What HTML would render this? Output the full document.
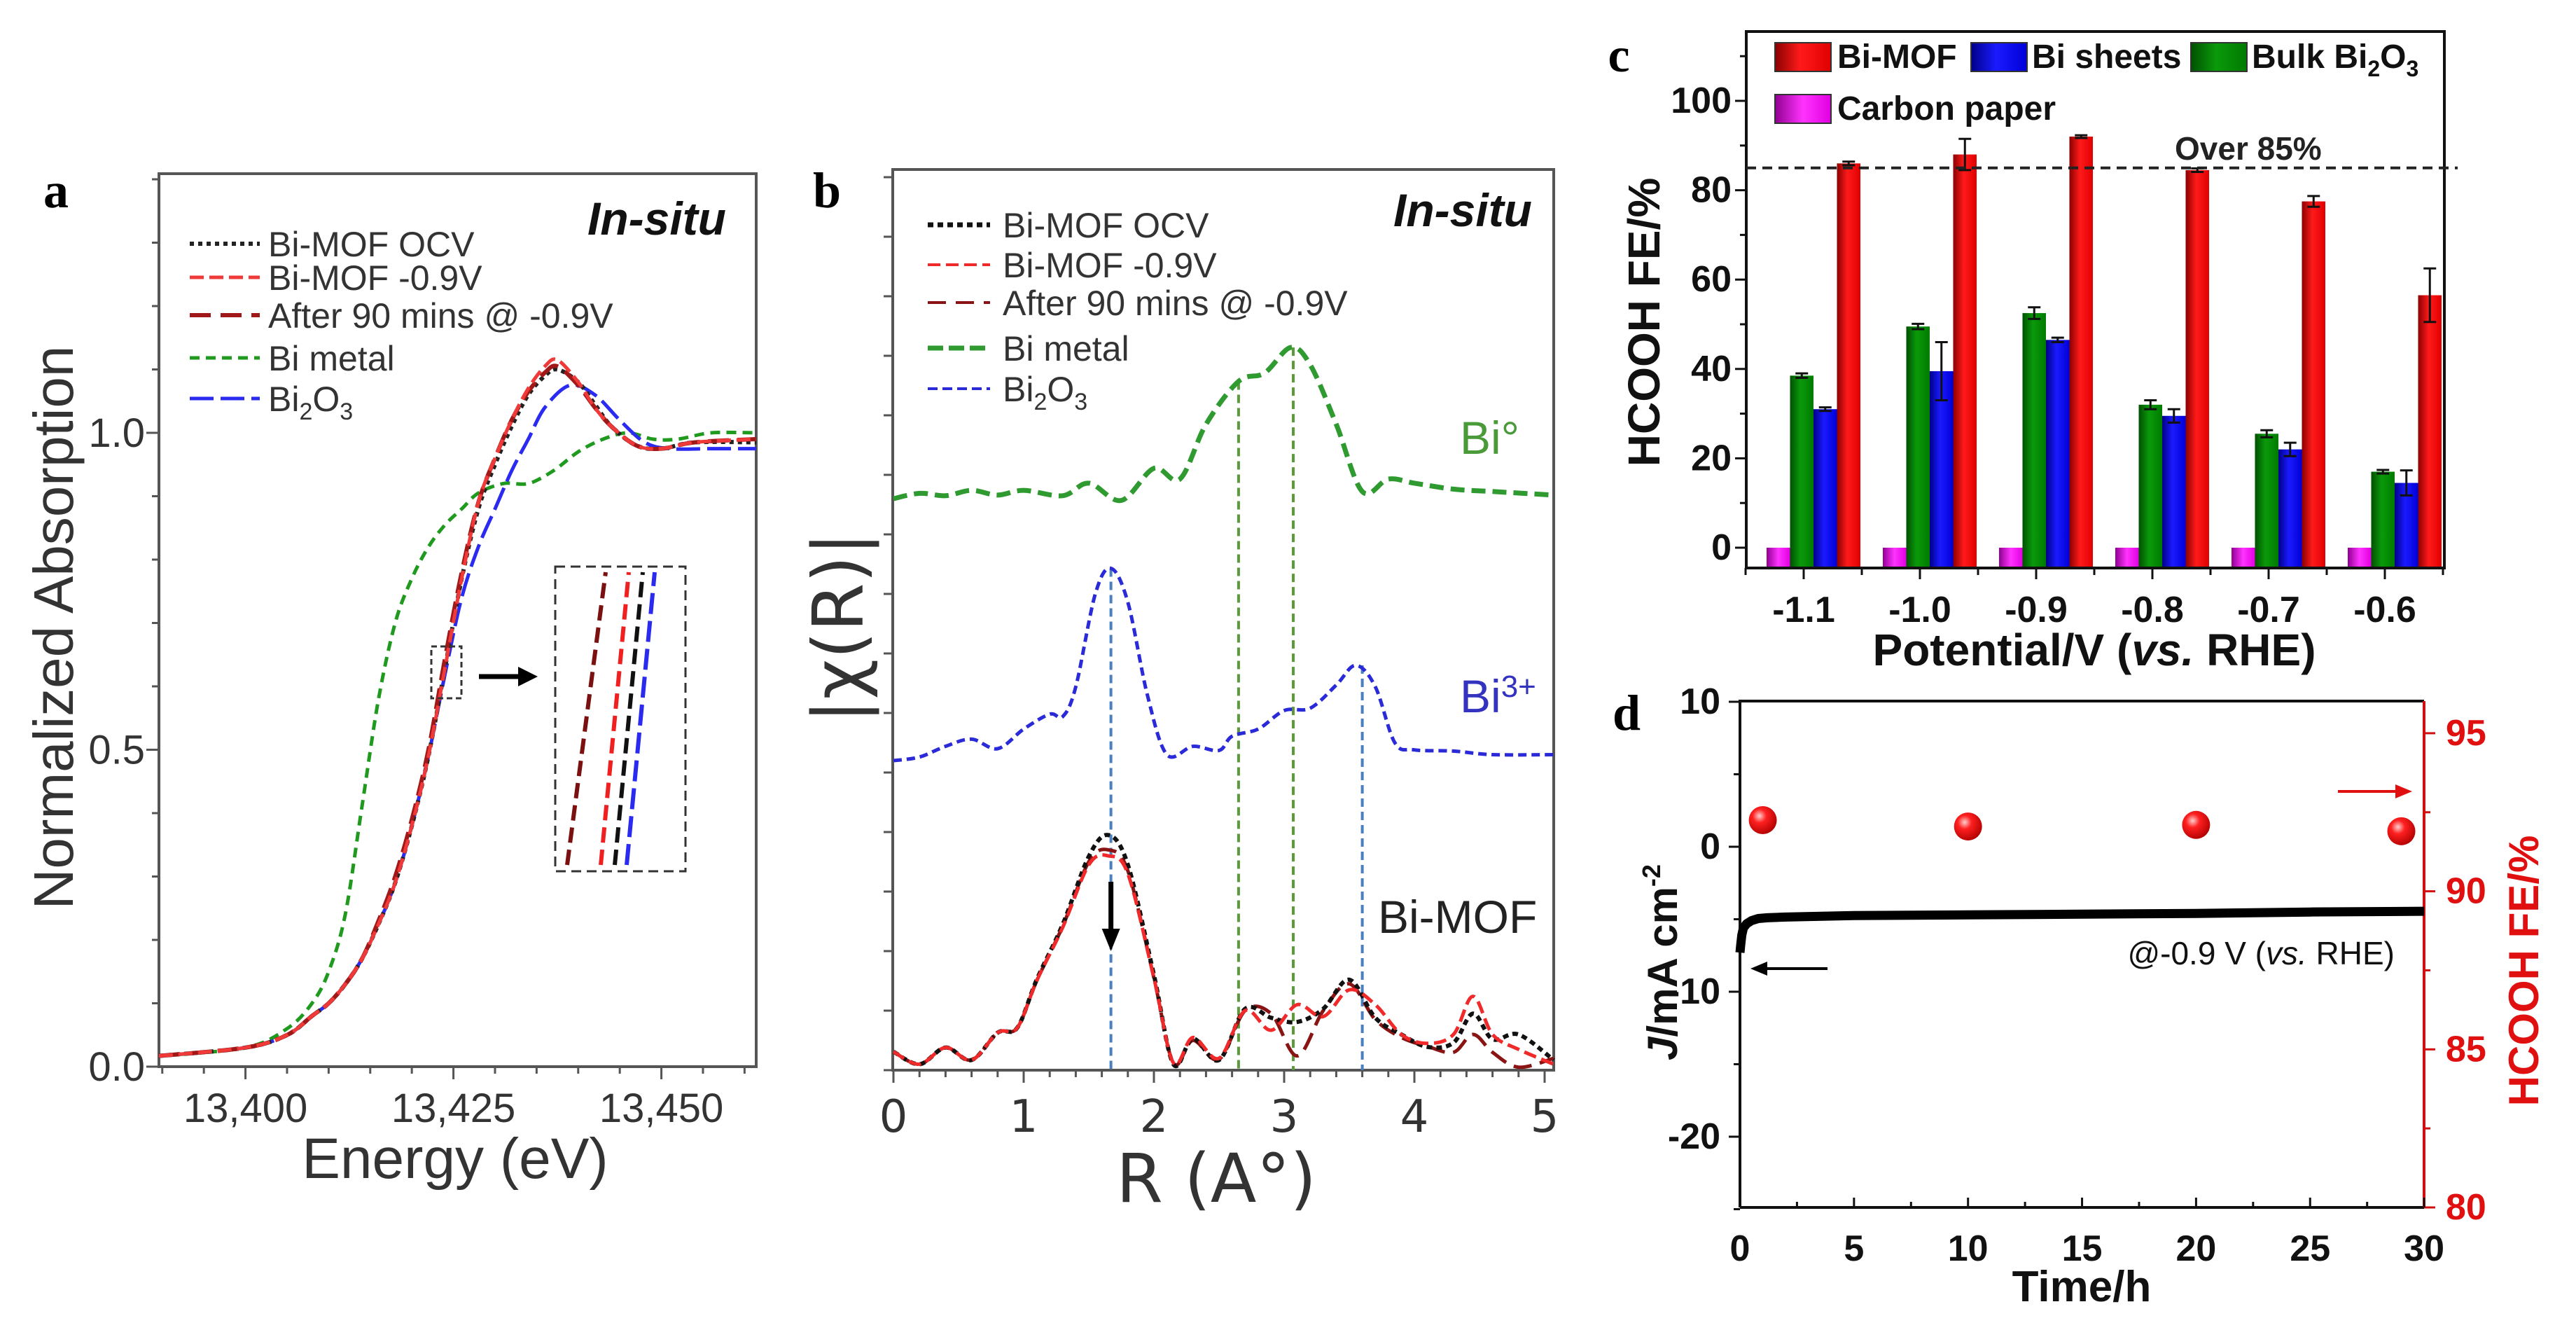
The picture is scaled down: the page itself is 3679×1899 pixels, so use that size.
<!DOCTYPE html>
<html><head><meta charset="utf-8">
<style>
html,body{margin:0;padding:0;background:#fff;}
svg{display:block;}
.lib{font-family:"Liberation Sans",sans-serif;}
.nar{font-family:"Liberation Sans Narrow","Liberation Sans",sans-serif;font-weight:bold;}
.narn{font-family:"Liberation Sans Narrow","Liberation Sans",sans-serif;font-weight:normal;}
.ser{font-family:"Liberation Serif",serif;font-weight:bold;}
.dv{font-family:"DejaVu Sans","Liberation Sans",sans-serif;}
</style></head>
<body>
<svg id="fig" width="3679" height="1899" viewBox="0 0 3679 1899" xmlns="http://www.w3.org/2000/svg">
<defs>
<linearGradient id="gRed" x1="0" x2="1" y1="0" y2="0"><stop offset="0" stop-color="#8a0000"/><stop offset="0.45" stop-color="#ff1a1a"/><stop offset="1" stop-color="#e00000"/></linearGradient>
<linearGradient id="gBlue" x1="0" x2="1"><stop offset="0" stop-color="#00008a"/><stop offset="0.45" stop-color="#1a1aff"/><stop offset="1" stop-color="#0000d8"/></linearGradient>
<linearGradient id="gGreen" x1="0" x2="1"><stop offset="0" stop-color="#005000"/><stop offset="0.45" stop-color="#0a9a0a"/><stop offset="1" stop-color="#007a00"/></linearGradient>
<linearGradient id="gMag" x1="0" x2="1"><stop offset="0" stop-color="#900090"/><stop offset="0.5" stop-color="#ff33ff"/><stop offset="1" stop-color="#e000e0"/></linearGradient>
<radialGradient id="gBall" cx="0.38" cy="0.35" r="0.7"><stop offset="0" stop-color="#ffd0d0"/><stop offset="0.35" stop-color="#ff2020"/><stop offset="1" stop-color="#b00000"/></radialGradient>
</defs>
</svg>
<script>
// ---------- Panel a data ----------
const aRedE=[13389.6,13400,13405,13408,13410,13412,13414,13416,13418,13420,13422,13424,13426,13428,13430,13432,13434,13436,13437.5,13440,13442,13444,13447,13450,13454,13461.4];
const aRedV=[0.017,0.03,0.05,0.08,0.10,0.13,0.17,0.225,0.29,0.38,0.49,0.63,0.77,0.89,0.96,1.02,1.07,1.105,1.115,1.08,1.04,1.01,0.98,0.975,0.985,0.99];
const aBlackV=[0.017,0.03,0.05,0.08,0.10,0.13,0.17,0.225,0.29,0.38,0.49,0.63,0.77,0.88,0.95,1.01,1.06,1.09,1.10,1.08,1.045,1.01,0.98,0.975,0.985,0.985];
const aDarkV=[0.017,0.03,0.05,0.08,0.10,0.13,0.17,0.23,0.30,0.39,0.50,0.645,0.78,0.89,0.96,1.02,1.065,1.095,1.105,1.075,1.04,1.01,0.98,0.975,0.985,0.99];
const aGreenE=[13389.6,13400,13405,13408,13410,13412,13414,13416,13418,13420,13422,13424,13426,13428,13431,13434,13437,13440,13443,13446,13449,13452,13456,13461.4];
const aGreenV=[0.017,0.03,0.06,0.10,0.15,0.24,0.41,0.58,0.70,0.77,0.82,0.855,0.88,0.905,0.92,0.92,0.94,0.97,0.99,1.0,0.99,0.99,1.0,1.0];
const aBlueE=[13389.6,13400,13405,13408,13410,13412,13414,13416,13418,13420,13422,13424,13426,13428,13430,13432,13434,13436,13439,13442,13445,13448,13451,13456,13461.4];
const aBlueV=[0.017,0.03,0.05,0.08,0.10,0.13,0.17,0.225,0.29,0.38,0.49,0.62,0.74,0.82,0.88,0.94,0.99,1.04,1.075,1.06,1.02,0.985,0.975,0.975,0.975];
const aYTicks=[0,0.5,1.0];
const aYLabels=["0.0","0.5","1.0"];
const aXTicks=[13400,13425,13450];
const aXLabels=["13,400","13,425","13,450"];
// ---------- Panel b data ----------
const bGreenR=[0,0.2,0.4,0.6,0.8,1.0,1.3,1.5,1.75,2.0,2.2,2.4,2.65,2.85,3.05,3.2,3.4,3.6,3.8,4.0,4.3,4.6,5.07];
const bGreenY=[9.6,9.69,9.65,9.74,9.66,9.74,9.65,9.86,9.57,10.11,9.93,10.85,11.57,11.71,12.14,11.85,10.85,9.72,9.93,9.86,9.76,9.72,9.66];
const bBlueR=[0,0.2,0.4,0.6,0.8,1.0,1.2,1.3,1.4,1.55,1.67,1.8,1.95,2.1,2.3,2.5,2.6,2.8,3.0,3.2,3.4,3.55,3.7,3.85,4.0,4.3,4.6,5.07];
const bBlueY=[5.2,5.26,5.44,5.56,5.4,5.73,5.98,5.94,6.44,8.0,8.43,7.86,6.3,5.3,5.44,5.37,5.61,5.73,6.04,6.08,6.47,6.8,6.44,5.5,5.38,5.36,5.3,5.3];
const bMofR=[0,0.2,0.4,0.6,0.8,0.95,1.1,1.3,1.5,1.65,1.8,2.0,2.15,2.3,2.5,2.7,2.9,3.1,3.3,3.5,3.7,3.9,4.1,4.3,4.45,4.6,4.8,5.07];
const bBlackY=[0.31,0.1,0.38,0.17,0.63,0.71,1.52,2.45,3.59,3.95,3.45,1.6,0.1,0.53,0.17,1.03,0.88,0.81,1.03,1.52,0.88,0.6,0.39,0.46,0.95,0.52,0.6,0.17];
const bRedY=[0.31,0.1,0.38,0.17,0.63,0.71,1.5,2.4,3.45,3.6,3.3,1.55,0.12,0.55,0.2,1.0,0.67,1.1,0.9,1.35,1.1,0.6,0.45,0.6,1.24,0.6,0.35,0.1];
const bDarkY=[0.31,0.1,0.38,0.17,0.63,0.71,1.5,2.42,3.5,3.7,3.35,1.55,0.12,0.5,0.18,1.0,0.95,0.24,1.0,1.45,0.85,0.55,0.4,0.3,0.6,0.3,0.05,0.2];
const bXTicks=[0,1,2,3,4,5];
const bXLabels=["0","1","2","3","4","5"];
const bMarkR=[1.67,2.65,3.07,3.6];
// ---------- Panel c data ----------
const cCats=["-1.1","-1.0","-0.9","-0.8","-0.7","-0.6"];
const cCarbon=[0,0,0,0,0,0];
const cBulk=[38.5,49.5,52.5,32,25.5,17];
const cBulkErr=[0.5,0.6,1.3,1.0,0.8,0.4];
const cSheets=[31,39.5,46.5,29.5,22,14.5];
const cSheetsErr=[0.4,6.5,0.5,1.5,1.5,2.8];
const cMof=[86,88,92,84.5,77.5,56.5];
const cMofErr=[0.4,3.5,0.3,0.4,1.2,6];
const cYTicks=[0,20,40,60,80,100];
const cYLabels=["0","20","40","60","80","100"];
// ---------- Panel d data ----------
const dTime=[0,0.03,0.08,0.15,0.3,0.5,0.8,1.2,2,5,10,15,20,25,30];
const dJ=[-7.3,-6.8,-6.1,-5.6,-5.3,-5.1,-4.95,-4.9,-4.85,-4.75,-4.7,-4.65,-4.6,-4.5,-4.45];
const dFeT=[1,10,20,29];
const dFe=[92.25,92.05,92.1,91.9];
const dXTicks=[0,5,10,15,20,25,30];
const dXLabels=["0","5","10","15","20","25","30"];
const dLTicks=[10,0,-10,-20];
const dLLabels=["10","0","-10","-20"];
const dRTicks=[95,90,85,80];
const dRLabels=["95","90","85","80"];

const NS="http://www.w3.org/2000/svg";
const svg=document.getElementById('fig');
function mk(tag,attrs,parent){const e=document.createElementNS(NS,tag);for(const k in attrs)e.setAttribute(k,attrs[k]);(parent||svg).appendChild(e);return e;}
function smooth(pts){let d="M"+pts[0][0].toFixed(1)+","+pts[0][1].toFixed(1);for(let i=0;i<pts.length-1;i++){const p0=pts[Math.max(0,i-1)],p1=pts[i],p2=pts[i+1],p3=pts[Math.min(pts.length-1,i+2)];const c1x=p1[0]+(p2[0]-p0[0])/6,c1y=p1[1]+(p2[1]-p0[1])/6,c2x=p2[0]-(p3[0]-p1[0])/6,c2y=p2[1]-(p3[1]-p1[1])/6;d+=" C"+c1x.toFixed(1)+","+c1y.toFixed(1)+" "+c2x.toFixed(1)+","+c2y.toFixed(1)+" "+p2[0].toFixed(1)+","+p2[1].toFixed(1);}return d;}
function txt(x,y,s,cls,size,attrs,parent){const t=mk('text',Object.assign({x:x,y:y,class:cls,'font-size':size},attrs||{}),parent);t.textContent=s;return t;}

// ================= PANEL A =================
const xA=E=>227+(E-13389.6)*(853/71.8);
const yA=v=>1523-v*905;
const gA=mk('g',{});


let e;
e=txt(80,296,"a","ser",72,{'text-anchor':'middle'},gA);


e=mk('rect',{x:227,y:248,width:853,height:1275,fill:'none',stroke:'#555',"stroke-width":4},gA);


for(let v=0;v<=1.41;v+=0.1){const maj=Math.abs(v*2-Math.round(v*2))<0.01;e=mk('line',{x1:227,x2:227-(maj?18:10),y1:yA(v),y2:yA(v),stroke:'#555','stroke-width':3},gA);

}
aYTicks.forEach((v,i)=>{e=txt(207,yA(v)+20,aYLabels[i],"lib",58,{'text-anchor':'end',fill:'#333'},gA);

});
for(let E=13390;E<=13461;E+=5){const maj=(E%25===0);e=mk('line',{x1:xA(E),x2:xA(E),y1:1523,y2:1523+(maj?18:10),stroke:'#555','stroke-width':3},gA);

}
aXTicks.forEach((v,i)=>{e=txt(xA(v),1602,aXLabels[i],"lib",58,{'text-anchor':'middle',fill:'#333'},gA);

});
e=txt(650,1682,"Energy (eV)","lib",82,{'text-anchor':'middle',fill:'#333'},gA);


e=txt(0,0,"Normalized Absorption","lib",80,{'text-anchor':'middle',fill:'#333',transform:'translate(104,896) rotate(-90)'},gA);


e=txt(1037,335,"In-situ","lib",66,{'text-anchor':'end','font-weight':'bold','font-style':'italic',fill:'#111'},gA);


const aSeries=[
 {E:aGreenE,V:aGreenV,c:'#1f9a1f',d:'14 9',w:5,n:'a-line-bi-metal'},
 {E:aBlueE,V:aBlueV,c:'#2a2af0',d:'34 10',w:5,n:'a-line-bi2o3'},
 {E:aRedE,V:aBlackV,c:'#222',d:'6 6',w:6,n:'a-line-bimof-ocv'},
 {E:aRedE,V:aDarkV,c:'#a01818',d:'30 12',w:6,n:'a-line-after-90min'},
 {E:aRedE,V:aRedV,c:'#f03a3a',d:'20 8',w:5,n:'a-line-bimof-09v'}];
aSeries.forEach(s=>{const pts=s.E.map((E,i)=>[xA(E),yA(s.V[i])]);e=mk('path',{d:smooth(pts),fill:'none',stroke:s.c,'stroke-width':s.w,'stroke-dasharray':s.d},gA);

});
const legA=[['#222','6 6',6,'Bi-MOF OCV'],['#f03a3a','20 8',5,'Bi-MOF -0.9V'],['#a01818','30 14',6,'After 90 mins @ -0.9V'],['#1f9a1f','14 9',5,'Bi metal'],['#2a2af0','34 10',5,'Bi2O3']];
const legAY=[348,396,450,511,569];
legA.forEach((l,i)=>{e=mk('line',{x1:271,x2:371,y1:legAY[i],y2:legAY[i],stroke:l[0],'stroke-width':l[2],'stroke-dasharray':l[1]},gA);


let t;
if(l[3]==='Bi2O3'){t=txt(383,legAY[i]+18,'','lib',50,{fill:'#333'},gA);t.innerHTML='Bi<tspan font-size="34" dy="12">2</tspan><tspan dy="-12">O</tspan><tspan font-size="34" dy="12">3</tspan>';}
else t=txt(383,legAY[i]+18,l[3],'lib',50,{fill:'#333'},gA);

});
e=mk('rect',{x:616,y:923,width:43,height:74,fill:'none',stroke:'#333','stroke-width':3,'stroke-dasharray':'8 5'},gA);


e=mk('line',{x1:684,x2:745,y1:966,y2:966,stroke:'#000','stroke-width':7},gA);


e=mk('polygon',{points:'768,966 740,952 740,980',fill:'#000'},gA);


e=mk('rect',{x:793,y:809,width:186,height:435,fill:'none',stroke:'#333','stroke-width':3,'stroke-dasharray':'14 8'},gA);


[[810,'#7a1010','22 10'],[858,'#f02020','22 10'],[878,'#111','22 10'],[895,'#2a2af0','30 10']].forEach(s=>{e=mk('line',{x1:s[0],y1:1235,x2:s[0]+(s[0]<840?55:40),y2:817,stroke:s[1],'stroke-width':6,'stroke-dasharray':s[2]},gA);

});

// ================= PANEL B =================
const xB=R=>1276+R*186;
const yB=u=>1528-u*85;
const gB=mk('g',{});


e=txt(1181,296,"b","ser",72,{'text-anchor':'middle'},gB);


e=mk('rect',{x:1275,y:242,width:944,height:1286,fill:'none',stroke:'#555',"stroke-width":4},gB);


for(let u=0;u<=15;u++){e=mk('line',{x1:1275,x2:1262,y1:yB(u),y2:yB(u),stroke:'#555','stroke-width':3},gB);

}
for(let R=0;R<=5.05;R+=0.2){const maj=Math.abs(R-Math.round(R))<0.01;e=mk('line',{x1:xB(R),x2:xB(R),y1:1528,y2:1528+(maj?18:10),stroke:'#555','stroke-width':3},gB);

}
bXTicks.forEach((v,i)=>{e=txt(xB(v),1616,bXLabels[i],"dv",64,{'text-anchor':'middle',fill:'#333'},gB);

});
e=txt(1737,1716,"R (A°)","dv",96,{'text-anchor':'middle',fill:'#333'},gB);


e=txt(0,0,"|χ(R)|","dv",100,{'text-anchor':'middle',fill:'#333',transform:'translate(1232,896) rotate(-90)'},gB);


e=txt(2188,323,"In-situ","lib",66,{'text-anchor':'end','font-weight':'bold','font-style':'italic',fill:'#111'},gB);


const markTop=[8.43,11.57,12.14,6.8];
const markCol=['#4a7fc0','#5a9a3a','#5a9a3a','#4a7fc0'];
bMarkR.forEach((R,i)=>{e=mk('line',{x1:xB(R),x2:xB(R),y1:yB(markTop[i]),y2:1528,stroke:markCol[i],'stroke-width':4,'stroke-dasharray':'12 7'},gB);

});
const bSeries=[
 {R:bGreenR,Y:bGreenY,c:'#2f9a2f',d:'20 10',w:7,n:'b-line-bi-metal'},
 {R:bBlueR,Y:bBlueY,c:'#2a2ad8',d:'12 7',w:5,n:'b-line-bi2o3'},
 {R:bMofR,Y:bDarkY,c:'#8a1414',d:'26 12',w:5,n:'b-line-after-90min'},
 {R:bMofR,Y:bBlackY,c:'#111',d:'8 6',w:6,n:'b-line-bimof-ocv'},
 {R:bMofR,Y:bRedY,c:'#f02a2a',d:'18 8',w:5,n:'b-line-bimof-09v'}];
bSeries.forEach(s=>{const pts=s.R.map((R,i)=>[xB(R),yB(s.Y[i])]);e=mk('path',{d:smooth(pts),fill:'none',stroke:s.c,'stroke-width':s.w,'stroke-dasharray':s.d},gB);

});
e=mk('line',{x1:xB(1.67),x2:xB(1.67),y1:1259,y2:1332,stroke:'#000','stroke-width':7},gB);


e=mk('polygon',{points:(xB(1.67)-13)+',1326 '+(xB(1.67)+13)+',1326 '+xB(1.67)+',1358',fill:'#000'},gB);


e=txt(2085,648,"Bi°","lib",66,{fill:'#4a9a3a'},gB);


e=txt(2085,1017,"","lib",66,{fill:'#3333c0'},gB);
e.innerHTML='Bi<tspan font-size="44" dy="-22">3+</tspan>';


e=txt(1968,1332,"Bi-MOF","lib",66,{fill:'#222'},gB);


const legB=[['#111','8 6',7,'Bi-MOF OCV'],['#f02a2a','18 8',4,'Bi-MOF -0.9V'],['#8a1414','26 14',4,'After 90 mins @ -0.9V'],['#2f9a2f','22 8',7,'Bi metal'],['#2a2ad8','14 7',4,'Bi2O3']];
const legBY=[321,378,432,497,555];
legB.forEach((l,i)=>{e=mk('line',{x1:1325,x2:1414,y1:legBY[i],y2:legBY[i],stroke:l[0],'stroke-width':l[2],'stroke-dasharray':l[1]},gB);


let t;
if(l[3]==='Bi2O3'){t=txt(1432,legBY[i]+18,'','lib',50,{fill:'#333'},gB);t.innerHTML='Bi<tspan font-size="34" dy="12">2</tspan><tspan dy="-12">O</tspan><tspan font-size="34" dy="12">3</tspan>';}
else t=txt(1432,legBY[i]+18,l[3],'lib',50,{fill:'#333'},gB);

});

// ================= PANEL C =================
const xC=i=>2576+i*166;
const yC=v=>782-v*6.38;
const gC=mk('g',{});


e=txt(2312,102,"c","ser",70,{'text-anchor':'middle'},gC);


const bw=33.5, cBase=yC(-4.5);
const cSeries=[[cCarbon,null,'url(#gMag)',-53,'bar-carbon-paper'],[cBulk,cBulkErr,'url(#gGreen)',-53+bw,'bar-bulk-bi2o3'],[cSheets,cSheetsErr,'url(#gBlue)',-53+2*bw,'bar-bi-sheets'],[cMof,cMofErr,'url(#gRed)',-53+3*bw,'bar-bi-mof']];
cSeries.forEach(s=>{s[0].forEach((v,i)=>{const x=xC(i)+s[3];e=mk('rect',{x:x,y:yC(v),width:bw,height:cBase-yC(v),fill:s[2]},gC);


if(s[1]){const cx=x+bw/2,err=s[1][i];e=mk('path',{d:`M${cx-9},${yC(v+err)}H${cx+9}M${cx},${yC(v+err)}V${yC(v-err)}M${cx-9},${yC(v-err)}H${cx+9}`,stroke:'#111','stroke-width':3,fill:'none'},gC);

}});});
e=mk('rect',{x:2494,y:45,width:997,height:766,fill:'none',stroke:'#111',"stroke-width":4},gC);


e=mk('line',{x1:2494,x2:3510,y1:yC(85),y2:yC(85),stroke:'#222','stroke-width':4,'stroke-dasharray':'14 9'},gC);


e=txt(3106,228,"Over 85%","nar",46,{fill:'#222'},gC);


for(let v=0;v<=110;v+=10){e=mk('line',{x1:2494,x2:2494-(v%20===0?16:9),y1:yC(v),y2:yC(v),stroke:'#111','stroke-width':3},gC);

}
cYTicks.forEach((v,i)=>{e=txt(2473,yC(v)+17,cYLabels[i],"nar",52,{'text-anchor':'end',fill:'#111'},gC);

});
for(let i=-0.5;i<=5.5;i+=0.5){e=mk('line',{x1:xC(i),x2:xC(i),y1:811,y2:811+(Number.isInteger(i)?16:10),stroke:'#111','stroke-width':3},gC);

}
cCats.forEach((c,i)=>{e=txt(xC(i),888,c,"nar",52,{'text-anchor':'middle',fill:'#111'},gC);

});
e=txt(2991,950,"","lib",64,{'text-anchor':'middle','font-weight':'bold',fill:'#111'},gC);
e.innerHTML='Potential/V (<tspan font-style="italic">vs.</tspan> RHE)';


e=txt(0,0,"HCOOH FE/%","lib",64,{'text-anchor':'middle','font-weight':'bold',fill:'#111',transform:'translate(2370,460) rotate(-90)'},gC);


const legC=[[2535,61,'url(#gRed)','Bi-MOF',2624],[2815,61,'url(#gBlue)','Bi sheets',2902],[3129,61,'url(#gGreen)','Bulk Bi2O3',3216],[2535,135,'url(#gMag)','Carbon paper',2624]];
legC.forEach(l=>{e=mk('rect',{x:l[0],y:l[1],width:80,height:41,fill:l[2],stroke:'#333','stroke-width':2},gC);


let t=txt(l[4],l[1]+36,'','nar',48,{fill:'#111'},gC);
if(l[3]==='Bulk Bi2O3')t.innerHTML='Bulk Bi<tspan font-size="32" dy="12">2</tspan><tspan dy="-12">O</tspan><tspan font-size="32" dy="12">3</tspan>';else t.textContent=l[3];

});

// ================= PANEL D =================
const xD=t=>2485+t*32.57;
const yDL=j=>1209-j*20.7;
const yDR=f=>1724-(f-80)*45.14;
const gD=mk('g',{});


e=txt(2323,1042,"d","ser",72,{'text-anchor':'middle'},gD);


e=mk('path',{d:'M2485,1724V1001H3462',fill:'none',stroke:'#111','stroke-width':4},gD);


e=mk('line',{x1:2485,x2:3462,y1:1724,y2:1724,stroke:'#111','stroke-width':4},gD);


e=mk('line',{x1:3462,x2:3462,y1:1001,y2:1724,stroke:'#d01010','stroke-width':4},gD);


for(let j=-25;j<=10;j+=5){e=mk('line',{x1:2485,x2:2485-(j%10===0?16:9),y1:yDL(j),y2:yDL(j),stroke:'#111','stroke-width':3},gD);

}
dLTicks.forEach((v,i)=>{e=txt(2457,yDL(v)+17,dLLabels[i],"nar",52,{'text-anchor':'end',fill:'#111'},gD);

});
for(let f=80;f<=95;f+=2.5){e=mk('line',{x1:3462,x2:3462+(f%5===0?16:9),y1:yDR(f),y2:yDR(f),stroke:'#d01010','stroke-width':3},gD);

}
dRTicks.forEach((v,i)=>{e=txt(3493,yDR(v)+17,dRLabels[i],"nar",52,{fill:'#e01010'},gD);

});
for(let t=0;t<=30;t+=2.5){e=mk('line',{x1:xD(t),x2:xD(t),y1:1724,y2:1724-(t%5===0?14:8),stroke:'#111','stroke-width':3},gD);

}
dXTicks.forEach((v,i)=>{e=txt(xD(v),1800,dXLabels[i],"nar",52,{'text-anchor':'middle',fill:'#111'},gD);

});
e=txt(2973,1858,"Time/h","nar",62,{'text-anchor':'middle',fill:'#111'},gD);


e=txt(0,0,"","lib",60,{'text-anchor':'middle','font-weight':'bold',fill:'#111',transform:'translate(2395,1374) rotate(-90)'},gD);
e.innerHTML='<tspan font-style="italic">J</tspan>/mA cm<tspan font-size="36" dy="-24">-2</tspan>';


e=txt(0,0,"HCOOH FE/%","lib",60,{'text-anchor':'middle','font-weight':'bold',fill:'#e01010',transform:'translate(3625,1386) rotate(-90)'},gD);


const jPts=dTime.map((t,i)=>[xD(t),yDL(dJ[i])]);
e=mk('path',{d:'M'+jPts.map(p=>p[0].toFixed(1)+','+p[1].toFixed(1)).join('L'),fill:'none',stroke:'#000','stroke-width':13,'stroke-linejoin':'round'},gD);


dFeT.forEach((t,i)=>{e=mk('circle',{cx:xD(t),cy:yDR(dFe[i]),r:20,fill:'url(#gBall)'},gD);

});
e=txt(3420,1377,"","narn",46,{'text-anchor':'end',fill:'#111'},gD);
e.innerHTML='@-0.9 V (<tspan font-style="italic">vs.</tspan> RHE)';


e=mk('line',{x1:2610,x2:2520,y1:1383,y2:1383,stroke:'#000','stroke-width':4},gD);


e=mk('polygon',{points:'2500,1383 2524,1373 2524,1393',fill:'#000'},gD);


e=mk('line',{x1:3339,x2:3425,y1:1130,y2:1130,stroke:'#e01010','stroke-width':4},gD);


e=mk('polygon',{points:'3445,1130 3421,1120 3421,1140',fill:'#e01010'},gD);


</script>
</body></html>
